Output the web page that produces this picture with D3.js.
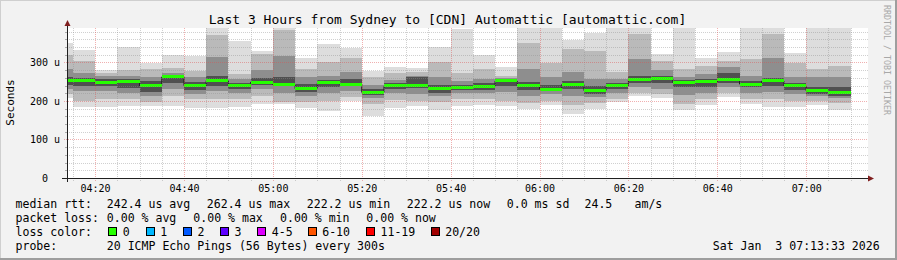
<!DOCTYPE html>
<html>
<head>
<meta charset="utf-8">
<script src="https://cdn.jsdelivr.net/npm/d3@7"></script>
<title>Smokeping - Sydney to Automattic</title>
<style>
	body { margin: 0; background: #f2f2f2; }
	svg text { font-family: "DejaVu Sans Mono", monospace; white-space: pre; }
</style>
</head>
<body>
<div id="chart"></div>

<script type="text/javascript">

// 5 minute bins (end time of each bin)
var binEnd = ["04:15","04:20","04:25","04:30","04:35","04:40","04:45","04:50","04:55","05:00",
	"05:05","05:10","05:15","05:20","05:25","05:30","05:35","05:40","05:45","05:50",
	"05:55","06:00","06:05","06:10","06:15","06:20","06:25","06:30","06:35","06:40",
	"06:45","06:50","06:55","07:00","07:05","07:10"];

// median rtt per bin (us)
var median = [253,253,247,250,239,262.4,240,253,239,249,242,232,247,244,222.5,239,239,232,235,237,
	252,239,231,243,227,240,255,259,248,250,255,244,252,239,226,222.2];

// smoke: outer ping range and inner quantile pairs
var pingMin = [207,185,185,188,188,188,183,183,185,192,192,181,175,200,162,181,188,177,188,190,
	188,179,190,166,179,197,214,208,177,190,211,192,185,185,190,177];
var pingMax = [351,332,280,341,298,320,318,420,357,331,420,312,348,338,279,289,287,339,387,320,
	289,420,420,359,377,420,420,322,420,312,326,420,420,324,420,420];
var q1Lo = [218,200,205,205,198,212,205,205,206,214,198,198,200,210,192,202,200,198,205,205,
	200,195,200,190,196,205,222,218,192,205,222,205,205,200,200,195];
var q1Hi = [320,305,272,280,282,285,278,372,270,322,385,283,300,312,262,272,276,300,272,283,
	264,350,298,335,330,275,375,305,282,292,305,308,375,298,282,292];
var q2Lo = [230,226,226,220,212,232,218,225,222,232,222,214,222,226,208,220,218,214,220,220,
	224,214,217,214,210,220,236,232,215,222,236,222,224,218,212,207];
var q2Hi = [282,272,264,266,262,272,262,315,258,280,318,262,264,276,242,255,264,262,252,258,
	260,282,262,275,258,256,310,280,262,270,288,265,312,262,262,262];
var q3Lo = [242,240,238,234,224,246,228,240,232,242,238,224,236,238,215,230,234,222,228,229,
	240,228,225,232,218,232,246,246,236,236,246,236,240,228,218,214];
var q3Hi = [262,260,257,258,252,268,250,266,247,260,262,244,254,256,232,246,262,242,242,246,
	258,250,242,252,238,248,264,266,254,258,272,252,260,246,236,236];

var yTicks = [0, 100, 200, 300];
var xTicks = ["04:20","04:40","05:00","05:20","05:40","06:00","06:20","06:40","07:00"];

var lossLabels = ["0","1","2","3","4-5","6-10","11-19","20/20"];
var lossColors = ["#26ff00","#00b8ff","#0059ff","#5e00ff","#dd00ff","#ff5500","#ff0000","#a10000"];

var rttLegend = ["242.4 us avg","262.4 us max","222.2 us min","222.2 us now","0.0 ms sd","24.5","am/s"];
var lossLegend = ["0.00 % avg","0.00 % max","0.00 % min","0.00 % now"];


var svgwidth = 897;
var svgheight = 260;

var parseT = d3.utcParse("%Y-%m-%d %H:%M:%S");
var t = function(hm){ return parseT("2026-01-03 " + hm + ":00"); };
var tStart = parseT("2026-01-03 04:13:33");
var tEnd = parseT("2026-01-03 07:13:33");

var xScale = d3.scaleUtc()
	.domain([tStart, tEnd])
	.range([66.4, 866.4]);

var yScale = d3.scaleLinear()
	.domain([0, 389.6])
	.range([178, 28]);

var binStart = function(i){ return d3.utcMinute.offset(t(binEnd[i]), -5); };

var svg = d3.select("#chart").append("svg")
	.attr("width", svgwidth)
	.attr("height", svgheight);

// background and 3d shade
svg.append("rect").attr("width", svgwidth).attr("height", svgheight).attr("fill", "#f2f2f2");
svg.append("rect").attr("x", 0).attr("y", 0).attr("width", svgwidth).attr("height", 1).attr("fill", "#cfcfcf");
svg.append("rect").attr("x", 0).attr("y", 0).attr("width", 1).attr("height", svgheight).attr("fill", "#cfcfcf");
svg.append("rect").attr("x", 0).attr("y", svgheight-2).attr("width", svgwidth).attr("height", 2).attr("fill", "#9e9e9e");
svg.append("rect").attr("x", svgwidth-2).attr("y", 0).attr("width", 2).attr("height", svgheight).attr("fill", "#9e9e9e");

// canvas
svg.append("rect")
	.attr("x", 67).attr("y", 28)
	.attr("width", 801).attr("height", 150)
	.attr("fill", "#ffffff");

svg.append("clipPath").attr("id", "plotclip")
	.append("rect")
	.attr("x", 67).attr("y", 28)
	.attr("width", 801).attr("height", 150);

var plot = svg.append("g").attr("clip-path", "url(#plotclip)");

// smoke layers, outer to inner
var layers = [
	{lo: pingMin, hi: pingMax, color: "#dddddd"},
	{lo: q1Lo, hi: q1Hi, color: "#bababa"},
	{lo: q2Lo, hi: q2Hi, color: "#8e8e8e"},
	{lo: q3Lo, hi: q3Hi, color: "#505050"}
];

layers.forEach(function(layer){
	plot.append("g").selectAll("rect")
		.data(d3.range(binEnd.length)).enter().append("rect")
		.attr("shape-rendering", "crispEdges")
		.attr("x", function(i){ return xScale(binStart(i)); })
		.attr("width", function(i){ return xScale(t(binEnd[i])) - xScale(binStart(i)); })
		.attr("y", function(i){ return yScale(layer.hi[i]); })
		.attr("height", function(i){ return yScale(layer.lo[i]) - yScale(layer.hi[i]); })
		.attr("fill", layer.color);
});

// median: dark step line and loss colored band
var medPts = [];
median.forEach(function(m, i){
	medPts.push([xScale(binStart(i)), yScale(m)]);
	medPts.push([xScale(t(binEnd[i])), yScale(m)]);
});
plot.append("path")
	.attr("d", d3.line()(medPts))
	.attr("fill", "none")
	.attr("stroke", "#202020")
	.attr("stroke-width", 1);

plot.append("g").selectAll("rect")
	.data(median).enter().append("rect")
	.attr("shape-rendering", "crispEdges")
	.attr("x", function(d, i){ return xScale(binStart(i)); })
	.attr("width", function(d, i){ return xScale(t(binEnd[i])) - xScale(binStart(i)); })
	.attr("y", function(d){ return yScale(d) - 1.5; })
	.attr("height", 3)
	.attr("fill", lossColors[0]);

// grid (drawn over the graph like rrdtool)
var grid = svg.append("g");
var yMinor = d3.range(20, 390, 20).filter(function(v){ return v % 100 != 0; });
var yMajor = [100, 200, 300];
var xMinor = d3.utcMinute.every(5).range(tStart, tEnd).filter(function(d){ return d.getUTCMinutes() % 20 != 0; });
var xMajor = xTicks.map(t);

grid.selectAll(".hmin").data(yMinor).enter().append("line")
	.attr("x1", 67).attr("x2", 868)
	.attr("y1", function(d){ return Math.round(yScale(d)) + 0.5; })
	.attr("y2", function(d){ return Math.round(yScale(d)) + 0.5; })
	.attr("stroke", "#8f8f8f").attr("stroke-opacity", 0.42)
	.attr("stroke-dasharray", "1,1");

grid.selectAll(".vmin").data(xMinor).enter().append("line")
	.attr("x1", function(d){ return Math.round(xScale(d)) + 0.5; })
	.attr("x2", function(d){ return Math.round(xScale(d)) + 0.5; })
	.attr("y1", 28).attr("y2", 181)
	.attr("stroke", "#8f8f8f").attr("stroke-opacity", 0.42)
	.attr("stroke-dasharray", "1,1");

grid.selectAll(".hmaj").data(yMajor).enter().append("line")
	.attr("x1", 64).attr("x2", 868)
	.attr("y1", function(d){ return Math.round(yScale(d)) + 0.5; })
	.attr("y2", function(d){ return Math.round(yScale(d)) + 0.5; })
	.attr("stroke", "#de4f4f").attr("stroke-opacity", 0.45)
	.attr("stroke-dasharray", "1,1");

grid.selectAll(".vmaj").data(xMajor).enter().append("line")
	.attr("x1", function(d){ return Math.round(xScale(d)) + 0.5; })
	.attr("x2", function(d){ return Math.round(xScale(d)) + 0.5; })
	.attr("y1", 28).attr("y2", 182)
	.attr("stroke", "#de4f4f").attr("stroke-opacity", 0.45)
	.attr("stroke-dasharray", "1,1");

// small ticks on y axis
grid.selectAll(".ytick").data(yMinor).enter().append("line")
	.attr("x1", 65).attr("x2", 67)
	.attr("y1", function(d){ return Math.round(yScale(d)) + 0.5; })
	.attr("y2", function(d){ return Math.round(yScale(d)) + 0.5; })
	.attr("stroke", "#8f8f8f").attr("stroke-opacity", 0.7);

// axes
svg.append("line")
	.attr("x1", 62).attr("x2", 869)
	.attr("y1", 178.5).attr("y2", 178.5)
	.attr("stroke", "#1f1f1f");
svg.append("line")
	.attr("x1", 67.5).attr("x2", 67.5)
	.attr("y1", 182).attr("y2", 25)
	.attr("stroke", "#1f1f1f");
svg.append("path")
	.attr("d", "M868,175.5L874,178.5L868,181.5Z")
	.attr("fill", "#801f1f");
svg.append("path")
	.attr("d", "M64.5,26L67.5,20L70.5,26Z")
	.attr("fill", "#801f1f");

// axis labels
var xAxis = d3.axisBottom(xScale)
	.tickValues(xMajor)
	.tickFormat(d3.utcFormat("%H:%M"))
	.tickSize(0)
	.tickPadding(0);
var gx = svg.append("g").attr("transform", "translate(0,182)").call(xAxis);
gx.select(".domain").remove();
gx.selectAll("text")
	.attr("dy", null).attr("y", 9.5)
	.attr("font-size", "10px").attr("fill", "#000")
	.style("font-family", "'DejaVu Sans Mono', monospace");

var yAxis = d3.axisLeft(yScale)
	.tickValues(yTicks)
	.tickFormat(function(d){ return d == 0 ? "0  " : d + " u"; })
	.tickSize(0)
	.tickPadding(7);
var gy = svg.append("g").attr("transform", "translate(67,0)").call(yAxis);
gy.select(".domain").remove();
gy.selectAll("text")
	.attr("xml:space", "preserve")
	.attr("dy", "0.35em")
	.attr("font-size", "10px").attr("fill", "#000")
	.style("font-family", "'DejaVu Sans Mono', monospace");

svg.append("text")
	.attr("transform", "translate(14,102.5) rotate(-90)")
	.attr("text-anchor", "middle")
	.attr("font-size", "11px")
	.text("Seconds");

// title
svg.append("text")
	.attr("x", 447.5).attr("y", 23.5)
	.attr("text-anchor", "middle")
	.attr("font-size", "13px")
	.text("Last 3 Hours from Sydney to [CDN] Automattic [automattic.com]");

// watermark
svg.append("text")
	.attr("transform", "translate(884,5) rotate(90)")
	.attr("font-size", "8.3px")
	.attr("fill", "#a8a8a8")
	.text("RRDTOOL / TOBI OETIKER");

// legend
var legend = svg.append("g").attr("font-size", "11.55px").attr("fill", "#000");
var leg = function(x, y, s){
	legend.append("text").attr("x", x).attr("y", y).attr("xml:space", "preserve").text(s);
};

var rttX = [106.8, 206.8, 306.8, 406.8, 506.8, 584.5, 634.5];
leg(15.5, 207.5, "median rtt:");
rttLegend.forEach(function(s, i){ leg(rttX[i], 207.5, s); });

var lossX = [106.8, 193.3, 280, 366.3];
leg(15.5, 221.5, "packet loss:");
lossLegend.forEach(function(s, i){ leg(lossX[i], 221.5, s); });

var boxX = [108.3, 145.7, 183, 220, 257.3, 307.7, 366, 430.7];
leg(15.5, 235.5, "loss color:");
legend.selectAll(".lbox").data(lossColors).enter().append("rect")
	.attr("x", function(d, i){ return Math.round(boxX[i]) + 0.5; })
	.attr("y", 227.5)
	.attr("width", 8).attr("height", 8)
	.attr("fill", function(d){ return d; })
	.attr("stroke", "#000");
lossLabels.forEach(function(s, i){ leg(boxX[i] + 14.5, 235.5, s); });

leg(15.5, 249.5, "probe:");
leg(106.8, 249.5, "20 ICMP Echo Pings (56 Bytes) every 300s");
leg(712.8, 249.5, "Sat Jan  3 07:13:33 2026");

</script>
</body>
</html>
